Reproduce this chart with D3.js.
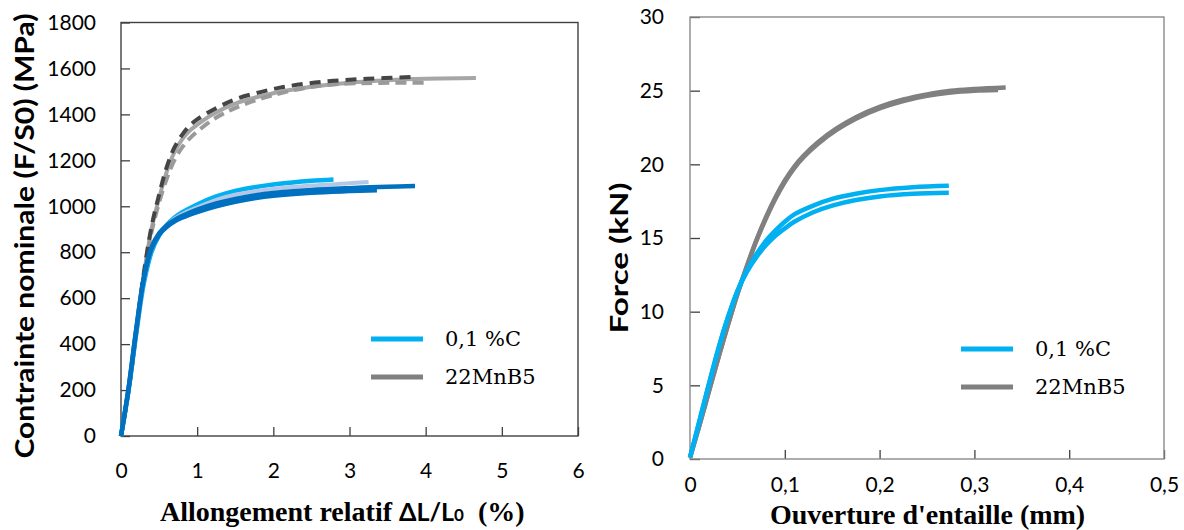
<!DOCTYPE html>
<html>
<head>
<meta charset="utf-8">
<script src="https://cdn.jsdelivr.net/npm/d3@7"></script>
<style>
  html, body { margin: 0; padding: 0; background: #fff; }
  svg { display: block; }
</style>
</head>
<body>
<svg id="chart" width="1184" height="530"></svg>
<script>
// ---------- DATA ----------
// Left chart: nominal stress (MPa) vs relative elongation (%)
const leftXTicks = [0, 1, 2, 3, 4, 5, 6];
const leftYTicks = [0, 200, 400, 600, 800, 1000, 1200, 1400, 1600, 1800];

// 0,1 %C specimens
const blueCyan = [[0,0],[0.1,200],[0.2,445],[0.3,665],[0.4,800],[0.5,872],[0.6,918],[0.7,950],[0.8,973],[1.0,1008],[1.25,1043],[1.5,1067],[1.75,1083],[2.0,1095],[2.25,1104],[2.5,1111],[2.79,1117]];
const bluePale = [[0,0],[0.1,205],[0.2,455],[0.3,680],[0.4,812],[0.5,878],[0.6,915],[0.7,945],[0.8,965],[1.0,995],[1.25,1028],[1.5,1050],[2.0,1075],[2.5,1090],[3.0,1100],[3.25,1106]];
const blueDarkA = [[0,0],[0.1,210],[0.2,465],[0.3,690],[0.4,820],[0.5,882],[0.6,917],[0.7,940],[0.8,957],[1.0,985],[1.25,1012],[1.5,1032],[1.75,1047],[2.0,1058],[2.5,1071],[3.0,1079],[3.5,1085],[3.86,1088]];
const blueDarkB = [[0,0],[0.1,208],[0.2,462],[0.3,686],[0.4,815],[0.5,877],[0.6,910],[0.7,933],[0.8,950],[1.0,975],[1.25,1000],[1.5,1020],[1.75,1035],[2.0,1046],[2.5,1059],[3.0,1066],[3.36,1070]];

// 22MnB5 specimens
const greyDarkDashed = [[0,0],[0.1,200],[0.2,455],[0.3,710],[0.4,910],[0.5,1050],[0.6,1170],[0.7,1255],[0.8,1310],[0.9,1350],[1.0,1378],[1.26,1429],[1.52,1468],[1.83,1497],[2.13,1519],[2.46,1535],[2.79,1546],[3.12,1553],[3.45,1558],[3.86,1564]];
const greyLightSolid = [[0,0],[0.1,198],[0.2,450],[0.3,700],[0.4,900],[0.5,1035],[0.6,1150],[0.7,1235],[0.8,1290],[0.9,1328],[1.0,1355],[1.2,1400],[1.5,1447],[2.0,1492],[2.5,1520],[3.0,1538],[3.5,1549],[4.0,1555],[4.66,1558]];
const greyMidDashed = [[0,0],[0.1,195],[0.2,445],[0.3,690],[0.4,885],[0.5,1015],[0.6,1120],[0.7,1200],[0.8,1255],[0.9,1295],[1.0,1325],[1.2,1376],[1.46,1422],[1.8,1465],[2.09,1492],[2.4,1514],[2.7,1528],[3.05,1535],[3.4,1537],[4.03,1538]];

// Right chart: force (kN) vs notch opening (mm)
const rightXTicks = [0, 0.1, 0.2, 0.3, 0.4, 0.5];
const rightYTicks = [0, 5, 10, 15, 20, 25, 30];

const cyanUpper = [[0,0.1],[0.01,2.6],[0.02,5.1],[0.03,7.5],[0.04,9.6],[0.05,11.4],[0.06,12.8],[0.07,13.9],[0.08,14.8],[0.09,15.5],[0.1,16.1],[0.11,16.6],[0.13,17.2],[0.15,17.65],[0.175,18.0],[0.2,18.25],[0.235,18.45],[0.273,18.55]];
const cyanLower = [[0,0.1],[0.01,2.6],[0.02,5.1],[0.03,7.5],[0.04,9.6],[0.05,11.4],[0.06,12.7],[0.07,13.7],[0.08,14.5],[0.09,15.15],[0.1,15.65],[0.11,16.1],[0.13,16.75],[0.15,17.2],[0.175,17.58],[0.2,17.82],[0.235,18.0],[0.273,18.07]];
const greyA = [[0,0.1],[0.01,2.3],[0.02,4.6],[0.03,6.9],[0.04,9.1],[0.05,11.2],[0.06,13.1],[0.07,14.85],[0.08,16.4],[0.09,17.75],[0.1,18.9],[0.11,19.85],[0.12,20.6],[0.135,21.5],[0.155,22.45],[0.175,23.2],[0.2,23.9],[0.225,24.4],[0.25,24.75],[0.275,25.0],[0.3,25.12],[0.333,25.22]];
const greyB = [[0,0.1],[0.01,2.3],[0.02,4.6],[0.03,6.9],[0.04,9.1],[0.05,11.2],[0.06,13.05],[0.07,14.8],[0.08,16.3],[0.09,17.65],[0.1,18.8],[0.11,19.75],[0.12,20.5],[0.135,21.4],[0.155,22.35],[0.175,23.1],[0.2,23.8],[0.225,24.3],[0.25,24.65],[0.275,24.88],[0.3,25.0],[0.325,25.05]];

const legendLabels = ["0,1 %C", "22MnB5"];

// ---------- DRAW ----------
const svg = d3.select("#chart");
const tickFont = "Lato, 'Open Sans', sans-serif";
const serif = "'Liberation Serif', 'Times New Roman', serif";

const lx = d3.scaleLinear().domain([0, 6]).range([121, 578]);
const ly = d3.scaleLinear().domain([0, 1800]).range([436, 22.5]);
const rx = d3.scaleLinear().domain([0, 0.5]).range([690, 1164]);
const ry = d3.scaleLinear().domain([0, 30]).range([459, 17]);

function styleAxis(g, color) {
  g.select(".domain").remove();
  g.selectAll(".tick line").attr("stroke", color).attr("stroke-width", 1.3);
  g.selectAll(".tick text").attr("font-family", tickFont).attr("font-size", 21).attr("fill", "#000");
}

// Left axes
svg.append("g").attr("transform", "translate(121,0)")
  .call(d3.axisLeft(ly).tickValues(leftYTicks).tickSize(-9).tickPadding(25).tickFormat(d3.format("d")))
  .call(g => styleAxis(g, "#404040"));
svg.append("g").attr("transform", "translate(0,436)")
  .call(d3.axisBottom(lx).tickValues(leftXTicks).tickSize(-9).tickPadding(27).tickFormat(d3.format("d")))
  .call(g => styleAxis(g, "#404040"));
svg.append("rect").attr("x", 121).attr("y", 22.5).attr("width", 457).attr("height", 413.5)
  .attr("fill", "none").attr("stroke", "#404040").attr("stroke-width", 1.4);

// Right axes
const commaFmt = d => d === 0 ? "0" : d3.format(".1f")(d).replace(".", ",");
svg.append("g").attr("transform", "translate(690,0)")
  .call(d3.axisLeft(ry).tickValues(rightYTicks).tickSize(-10).tickPadding(26).tickFormat(d3.format("d")))
  .call(g => styleAxis(g, "#404040"));
svg.append("g").attr("transform", "translate(0,459)")
  .call(d3.axisBottom(rx).tickValues(rightXTicks).tickSize(-9).tickPadding(18).tickFormat(commaFmt))
  .call(g => styleAxis(g, "#404040"));
svg.append("rect").attr("x", 690).attr("y", 17).attr("width", 474).attr("height", 442)
  .attr("fill", "none").attr("stroke", "#8a8a8a").attr("stroke-width", 1.4);

// Lines
const curve = d3.curveCatmullRom.alpha(0.5);
const lineL = d3.line().x(d => lx(d[0])).y(d => ly(d[1])).curve(curve);
const lineR = d3.line().x(d => rx(d[0])).y(d => ry(d[1])).curve(curve);

function draw(line, data, color, width, dash) {
  const p = svg.append("path").datum(data).attr("d", line)
    .attr("fill", "none").attr("stroke", color).attr("stroke-width", width)
    .attr("stroke-linejoin", "round").attr("stroke-linecap", "butt");
  if (dash) p.attr("stroke-dasharray", dash);
}

draw(lineL, greyLightSolid, "#a6a6a6", 4);
draw(lineL, greyMidDashed, "#9a9a9a", 4, "11,6");
draw(lineL, greyDarkDashed, "#454545", 4, "11,7");
draw(lineL, blueCyan, "#00b0f0", 4.5);
draw(lineL, bluePale, "#b4c7e7", 4);
draw(lineL, blueDarkB, "#0070c0", 4.5);
draw(lineL, blueDarkA, "#0070c0", 4.5);

draw(lineR, greyB, "#808080", 4.5);
draw(lineR, greyA, "#808080", 4.5);
draw(lineR, cyanLower, "#00b0f0", 4.5);
draw(lineR, cyanUpper, "#00b0f0", 4.5);

// Legends
function legend(x0, y0, x1, textX) {
  const colors = ["#00b0f0", "#808080"];
  legendLabels.forEach((lab, i) => {
    const y = y0 + i * 38;
    svg.append("line").attr("x1", x0).attr("x2", x1).attr("y1", y).attr("y2", y)
      .attr("stroke", colors[i]).attr("stroke-width", 5);
    svg.append("text").attr("x", textX).attr("y", y + 7)
      .attr("font-family", "'DejaVu Serif', serif").attr("font-size", 21).attr("fill", "#000")
      .text(lab);
  });
}
legend(371, 339, 423, 445);
legend(961, 349, 1013, 1035);

// Axis titles
svg.append("text").attr("transform", "translate(34,236) rotate(-90)")
  .attr("text-anchor", "middle").attr("font-family", tickFont).attr("font-weight", "bold")
  .attr("font-size", 26).attr("textLength", 445).attr("lengthAdjust", "spacingAndGlyphs").attr("fill", "#000")
  .text("Contrainte nominale (F/S0) (MPa)");

svg.append("text").attr("transform", "translate(628,258) rotate(-90)")
  .attr("text-anchor", "middle").attr("font-family", tickFont).attr("font-weight", "bold")
  .attr("font-size", 25).attr("textLength", 151).attr("lengthAdjust", "spacingAndGlyphs").attr("fill", "#000")
  .text("Force (kN)");

const xt = svg.append("text").attr("x", 160).attr("y", 521).attr("fill", "#000").attr("font-weight", "bold");
xt.append("tspan").attr("font-family", serif).attr("font-size", 28).text("Allongement relatif ");
xt.append("tspan").attr("font-family", tickFont).attr("font-size", 25).text("ΔL/L");
xt.append("tspan").attr("font-family", tickFont).attr("font-size", 17).text("0");
xt.append("tspan").attr("font-family", serif).attr("font-size", 28).text("\u00a0\u00a0(%)");

svg.append("text").attr("x", 770).attr("y", 524).attr("fill", "#000")
  .attr("font-family", serif).attr("font-weight", "bold").attr("font-size", 28)
  .text("Ouverture d'entaille (mm)");
</script>
</body>
</html>
